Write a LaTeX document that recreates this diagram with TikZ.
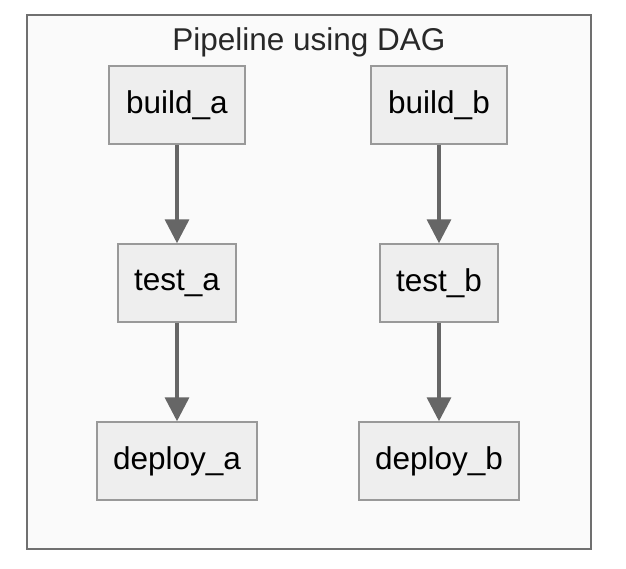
\documentclass[tikz,border=0pt]{standalone}
\usepackage{fontspec}
\setmainfont{Liberation Sans}
\usetikzlibrary{arrows.meta}
\definecolor{nodefill}{HTML}{EEEEEE}
\definecolor{nodeline}{HTML}{999999}
\definecolor{arrowc}{HTML}{666666}
\definecolor{framec}{HTML}{707070}
\definecolor{framefill}{HTML}{FAFAFA}
\begin{document}
\begin{tikzpicture}[x=1pt,y=-1pt,
  job/.style={draw=nodeline, fill=nodefill, line width=1.5pt, inner sep=0pt,
    font=\fontsize{31.5}{36}\selectfont, text=black},
  flow/.style={draw=arrowc, line width=3.5pt, -{Triangle[width=24pt,length=24pt]}, shorten >=0pt}]
\useasboundingbox (0,0) rectangle (626,568);
\fill[white] (0,0) rectangle (626,568);
\draw[framec, fill=framefill, line width=1.5pt] (27,15) rectangle (591,549);
\node[font=\fontsize{31.5}{36}\selectfont, text={rgb,255:red,40;green,40;blue,40}] (title) at (309,42) {Pipeline using DAG};
\node[job, minimum width=136pt, minimum height=78pt] (ba) at (177,105) {build\_a};
\node[job, minimum width=136pt, minimum height=78pt] (bb) at (439,105) {build\_b};
\node[job, minimum width=118pt, minimum height=78pt] (ta) at (177,283) {test\_a};
\node[job, minimum width=118pt, minimum height=78pt] (tb) at (439,283) {test\_b};
\node[job, minimum width=160pt, minimum height=78pt] (da) at (177,461) {deploy\_a};
\node[job, minimum width=160pt, minimum height=78pt] (db) at (439,461) {deploy\_b};
\draw[flow] (ba) -- (ta);
\draw[flow] (ta) -- (da);
\draw[flow] (bb) -- (tb);
\draw[flow] (tb) -- (db);
\end{tikzpicture}
\end{document}
